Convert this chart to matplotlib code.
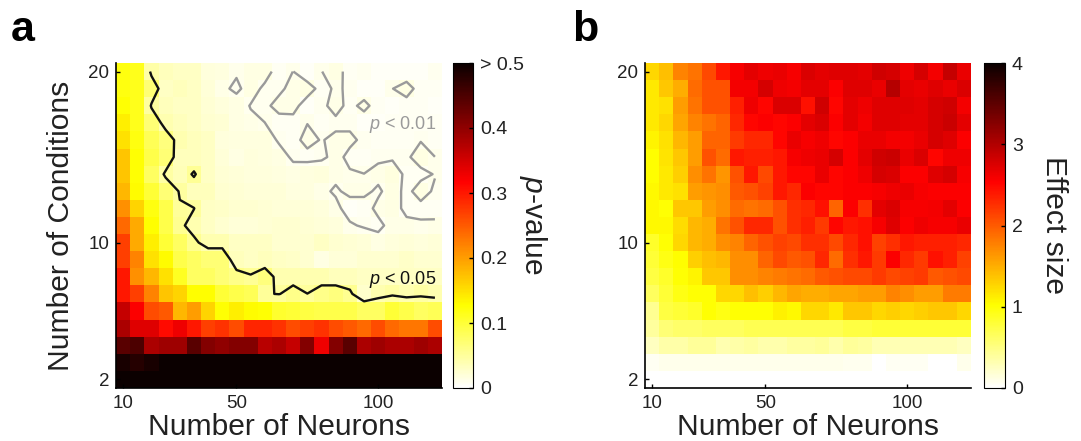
import matplotlib
matplotlib.use("Agg")
import matplotlib.pyplot as plt
import numpy as np

plt.rcParams['font.family'] = ['Liberation Sans', 'DejaVu Sans']
plt.rcParams['mathtext.fontset'] = 'custom'
plt.rcParams['mathtext.rm'] = 'Liberation Sans'
plt.rcParams['mathtext.it'] = 'Liberation Sans:italic'

neurons = np.arange(10, 125, 5)
conditions = np.arange(20, 1, -1)
xticks = [10, 50, 100]
yticks = [2, 10, 20]
p_ticks = [0, 0.1, 0.2, 0.3, 0.4, 0.5]
p_ticklabels = ['0', '0.1', '0.2', '0.3', '0.4', '> 0.5']
effect_ticks = [0, 1, 2, 3, 4]

# rows go from 20 conditions down to 2, columns from 10 to 120 neurons
p_values = np.array([
    [.12, .115, .043, .035, .03, .03, .018, .017, .0112, .014, .0138, .006, .0101, .004, .0098, .014, .006, .008, .005, .004, .004, .005, .009],
    [.12, .115, .07, .03, .035, .03, .02, .012, .008, .014, .008, .008, .013, .014, .007, .0113, .0086, .005, .004, .0098, .014, .006, .006],
    [.125, .115, .047, .035, .03, .03, .022, .018, .0147, .0095, .008, .013, .013, .0055, .008, .013, .0075, .0125, .006, .005, .006, .006, .005],
    [.14, .115, .07, .04, .035, .03, .025, .022, .015, .012, .01005, .0065, .007, .0098, .007, .008, .008, .005, .005, .006, .006, .006, .006],
    [.15, .12, .085, .065, .04, .035, .03, .018, .017, .017, .016, .0085, .0075, .0125, .0095, .012, .012, .008, .007, .007, .007, .0095, .007],
    [.17, .125, .09, .07, .035, .035, .03, .02, .015, .018, .017, .015, .008, .0075, .008, .013, .0075, .007, .0085, .0085, .0085, .014, .01005],
    [.17, .125, .08, .045, .036, .053, .03, .022, .02, .018, .018, .016, .015, .016, .018, .0125, .0111, .0101, .0125, .016, .0075, .0075, .0105],
    [.18, .13, .1, .07, .048, .035, .035, .025, .022, .02, .02, .02, .017, .017, .0125, .0085, .0125, .012, .0085, .014, .0075, .014, .0085],
    [.21, .16, .12, .09, .052, .0505, .03, .028, .025, .025, .022, .02, .02, .02, .018, .013, .005, .006, .0125, .014, .0075, .007, .0065],
    [.24, .19, .127, .09, .055, .041, .03, .025, .02, .02, .022, .025, .025, .022, .02, .018, .0115, .0085, .0075, .0135, .0125, .0116, .012],
    [.27, .19, .14, .1, .08, .055, .04, .04, .03, .03, .03, .025, .025, .025, .03, .025, .022, .02, .014, .018, .02, .018, .02],
    [.27, .22, .15, .13, .09, .08, .07, .07, .035, .03, .035, .03, .028, .025, .015, .02, .02, .025, .025, .025, .028, .025, .025],
    [.3, .21, .18, .15, .11, .08, .08, .07, .06, .053, .066, .04, .04, .04, .04, .035, .035, .03, .03, .03, .03, .03, .03],
    [.3, .27, .22, .17, .16, .127, .127, .1, .09, .085, .052, .049, .06, .0502, .06, .065, .055, .027, .04, .045, .04, .045, .04],
    [.36, .32, .26, .25, .18, .2, .16, .125, .14, .13, .125, .105, .1, .095, .09, .09, .09, .08, .08, .1, .09, .08, .085],
    [.38, .34, .34, .31, .33, .3, .27, .28, .26, .29, .29, .28, .26, .27, .28, .26, .25, .24, .26, .24, .23, .23, .26],
    [.44, .45, .38, .39, .39, .44, .41, .4, .41, .41, .37, .38, .36, .41, .33, .41, .44, .38, .39, .38, .38, .39, .38],
    [.49, .48, .49, .5, .5, .5, .5, .5, .5, .5, .5, .5, .5, .5, .5, .5, .5, .5, .5, .5, .5, .5, .5],
    [.5, .5, .5, .5, .5, .5, .5, .5, .5, .5, .5, .5, .5, .5, .5, .5, .5, .5, .5, .5, .5, .5, .5],
])

effect_size = np.array([
    [1.25, 1.4, 1.75, 1.85, 2.1, 2.4, 2.58, 2.7, 2.63, 2.66, 2.58, 2.76, 2.7, 2.73, 2.73, 2.7, 2.82, 2.79, 2.63, 2.79, 2.6, 2.88, 2.66],
    [1.15, 1.35, 1.5, 1.9, 2.05, 2.05, 2.6, 2.6, 2.79, 2.63, 2.6, 2.7, 2.7, 2.55, 2.73, 2.73, 2.66, 2.97, 2.7, 2.66, 2.73, 2.66, 2.76],
    [1.15, 1.2, 1.6, 1.85, 2.05, 2.05, 2.35, 2.63, 2.5, 2.76, 2.76, 2.45, 2.82, 2.5, 2.7, 2.63, 2.73, 2.73, 2.73, 2.7, 2.79, 2.82, 2.6],
    [1.15, 1.25, 1.55, 1.75, 1.85, 1.95, 2.3, 2.5, 2.55, 2.5, 2.55, 2.7, 2.76, 2.55, 2.7, 2.6, 2.73, 2.73, 2.7, 2.7, 2.79, 2.85, 2.7],
    [1.08, 1.2, 1.45, 1.6, 1.95, 1.95, 2.2, 2.3, 2.3, 2.5, 2.66, 2.58, 2.63, 2.5, 2.55, 2.66, 2.66, 2.6, 2.6, 2.66, 2.79, 2.73, 2.55],
    [1.03, 1.18, 1.35, 1.6, 2.05, 1.9, 2.4, 2.35, 2.35, 2.4, 2.58, 2.63, 2.66, 2.79, 2.55, 2.7, 2.82, 2.85, 2.66, 2.76, 2.5, 2.63, 2.63],
    [1.03, 1.15, 1.3, 1.7, 1.85, 1.65, 2.05, 2.4, 2.1, 2.4, 2.5, 2.5, 2.66, 2.5, 2.55, 2.63, 2.79, 2.76, 2.55, 2.55, 2.73, 2.79, 2.58],
    [1.05, 1.15, 1.2, 1.6, 1.65, 1.7, 2.0, 2.05, 2.15, 2.4, 2.3, 2.55, 2.5, 2.5, 2.55, 2.55, 2.58, 2.63, 2.66, 2.58, 2.55, 2.55, 2.55],
    [1.05, 1.0, 1.35, 1.35, 1.6, 1.7, 1.9, 1.85, 1.9, 2.05, 2.25, 2.3, 2.45, 1.95, 2.55, 2.25, 2.7, 2.76, 2.58, 2.58, 2.6, 2.7, 2.55],
    [1.05, 1.05, 1.22, 1.45, 1.5, 1.85, 2.05, 2.3, 2.3, 2.05, 2.25, 2.35, 2.2, 2.5, 2.4, 2.45, 2.58, 2.73, 2.55, 2.63, 2.58, 2.58, 2.66],
    [.85, 1.0, 1.25, 1.45, 1.5, 1.7, 1.75, 1.95, 2.05, 2.15, 2.1, 2.25, 2.25, 2.1, 2.3, 2.45, 2.15, 2.25, 2.4, 2.35, 2.35, 2.35, 2.3],
    [.8, .95, 1.02, 1.3, 1.4, 1.45, 1.7, 1.7, 1.95, 2.1, 2.0, 2.05, 2.3, 1.9, 2.25, 2.4, 2.2, 2.55, 2.3, 2.2, 2.45, 2.35, 2.15],
    [.75, .85, 1.0, 1.08, 1.35, 1.35, 1.7, 1.7, 1.75, 1.8, 1.85, 1.9, 2.0, 2.05, 2.1, 2.1, 2.2, 2.1, 2.15, 2.2, 2.0, 2.05, 2.1],
    [.65, .8, .95, 1.0, 1.0, 1.25, 1.25, 1.4, 1.3, 1.45, 1.55, 1.5, 1.5, 1.55, 1.55, 1.6, 1.6, 1.75, 1.7, 1.6, 1.6, 1.8, 1.8],
    [.45, .75, .8, .85, 1.0, .95, 1.0, 1.0, 1.0, 1.1, 1.05, 1.25, 1.25, 1.15, 1.35, 1.35, 1.25, 1.3, 1.25, 1.3, 1.35, 1.35, 1.25],
    [.4, .55, .6, .6, .65, .65, .65, .7, .7, .7, .7, .7, .7, .7, .75, .75, .8, .8, .8, .8, .8, .8, .8],
    [.25, .35, .35, .42, .42, .32, .35, .38, .33, .33, .38, .38, .42, .33, .42, .38, .3, .3, .3, .3, .3, .3, .25],
    [.05, .08, .08, .08, .08, .08, .08, .08, .08, .08, .08, .08, .08, .08, .07, .07, .0, .05, .05, .05, .0, .0, .08],
    [0, 0, 0, 0, 0, 0, 0, 0, 0, 0, 0, 0, 0, 0, 0, 0, 0, 0, 0, 0, 0, 0, 0],
])

W, H = 1081, 441


def pixel_axes(fig, x0, y0, x1, y1):
    return fig.add_axes([x0 / W, 1 - y1 / H, (x1 - x0) / W, (y1 - y0) / H])


def heatmap(fig, data, vmax, box, cbar_box, cticks, cticklabels, clabel, clabel_x):
    ax = pixel_axes(fig, *box)
    mesh = ax.pcolormesh(neurons, conditions, data, cmap='hot_r', vmin=0, vmax=vmax,
                         shading='nearest', rasterized=True)
    ax.set_xticks(xticks)
    ax.set_yticks(yticks)
    ax.tick_params(direction='in', length=3, width=1, labelsize=13.5, pad=5, labelcolor='#222222')
    ax.spines['top'].set_visible(False)
    ax.spines['right'].set_visible(False)
    ax.spines['left'].set_linewidth(1.2)
    ax.spines['bottom'].set_linewidth(1.2)
    ax.set_xlabel('Number of Neurons', fontsize=21.6, labelpad=0.5, color='#222222')

    cax = pixel_axes(fig, *cbar_box)
    cb = fig.colorbar(mesh, cax=cax)
    cb.set_ticks(cticks)
    cb.set_ticklabels(cticklabels)
    cb.ax.tick_params(length=3, width=1, direction='in', labelsize=14, pad=5, labelcolor='#222222')
    cb.outline.set_linewidth(0.8)
    fig.text(clabel_x / W, 1 - 225 / H, clabel, rotation=270, ha='center', va='center',
             fontsize=21.6, color='#222222')
    return ax


fig = plt.figure(figsize=(W / 100, H / 100), dpi=100)

ax_a = heatmap(fig, p_values, 0.5, (116, 63, 442, 388), (453, 63, 473, 388),
               p_ticks, p_ticklabels, r'$\mathit{p}$-value', 533)
ax_a.set_ylabel('Number of Conditions', fontsize=21.6, labelpad=9.5, color='#222222')
ax_a.contour(neurons, conditions, p_values, levels=[0.01], colors='#9a9a9a', linewidths=1.7)
ax_a.contour(neurons, conditions, p_values, levels=[0.05], colors='#111111', linewidths=1.7)
ax_a.text(0.775, 0.81, r'$\mathit{p}$ < 0.01', transform=ax_a.transAxes, color='#9a9a9a',
          fontsize=13, va='center')
ax_a.text(0.775, 0.335, r'$\mathit{p}$ < 0.05', transform=ax_a.transAxes, color='#111111',
          fontsize=13, va='center')

ax_b = heatmap(fig, effect_size, 4, (645, 63, 971, 388), (984, 63, 1005, 388),
               effect_ticks, ['0', '1', '2', '3', '4'], 'Effect size', 1054)

fig.text(11 / W, 1 - 30 / H, 'a', fontsize=31, fontweight='bold', va='center')
fig.text(572 / W, 1 - 30 / H, 'b', fontsize=31, fontweight='bold', va='center')

fig.savefig('out.png', dpi=100)
